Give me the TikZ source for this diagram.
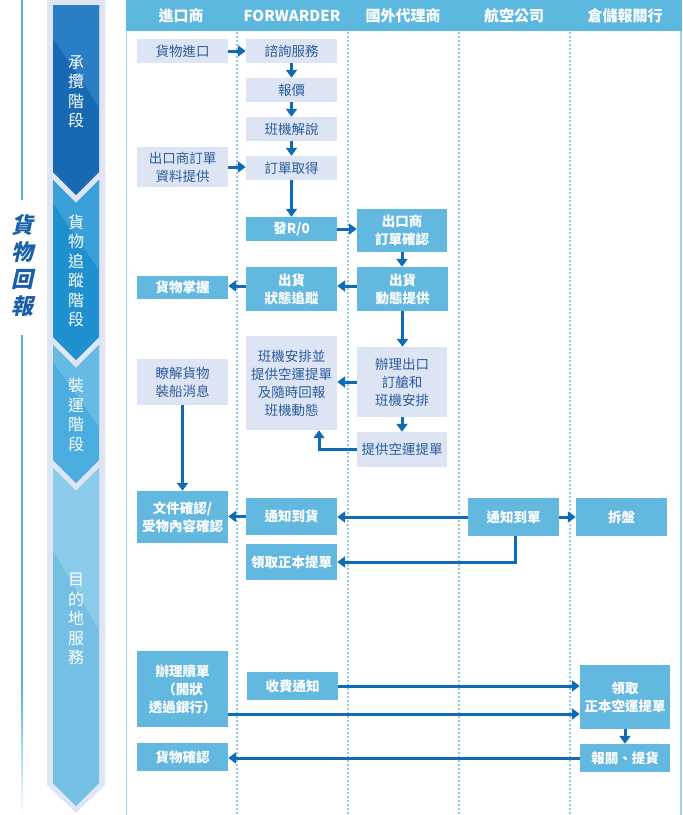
\documentclass[tikz,border=0pt]{standalone}
\usepackage{fontspec}
\setmainfont{Noto Sans CJK TC}
\newfontfamily\titlefont[FakeSlant=0.22]{Noto Sans CJK TC}
\usetikzlibrary{arrows.meta}
\definecolor{lightfill}{HTML}{DDE5F4}
\definecolor{lighttext}{HTML}{2C5C9C}
\definecolor{medfill}{HTML}{63B8E0}
\definecolor{arrowc}{HTML}{106BB6}
\definecolor{headc}{HTML}{5DB8E0}
\definecolor{sepc}{HTML}{8CCBEE}
\definecolor{framec}{HTML}{9ED3F0}
\definecolor{lavender}{HTML}{DFE5F5}
\definecolor{titleblue}{HTML}{1A5FA8}
\definecolor{linec}{HTML}{5AB4DC}
\definecolor{pa}{HTML}{1769B3}
\definecolor{pal}{HTML}{2A7FC4}
\definecolor{pb}{HTML}{1E90D0}
\definecolor{pbl}{HTML}{3AA0D9}
\definecolor{pc}{HTML}{4AACDF}
\definecolor{pcl}{HTML}{66BBE5}
\definecolor{pd}{HTML}{74C0E5}
\definecolor{pdl}{HTML}{8ACBEA}
\begin{document}
\begin{tikzpicture}[x=1pt,y=-1pt,
  lbox/.style={fill=lightfill, text=lighttext, font=\fontsize{13.5}{18}\selectfont, align=center, inner sep=0pt},
  mbox/.style={fill=medfill, text=white, font=\fontsize{13.5}{18}\selectfont\bfseries, align=center, inner sep=0pt},
  flow/.style={draw=arrowc, line width=3pt, -{Triangle[length=8pt,width=11pt]}},
  sepline/.style={draw=sepc, line width=1.3pt, dash pattern=on 2pt off 2pt},
  headtxt/.style={text=white, font=\fontsize{15}{18}\selectfont\bfseries},
  phasetxt/.style={text=white, font=\fontsize{16}{19.5}\selectfont, align=center, inner sep=0pt}
]
\useasboundingbox (0,0) rectangle (683,815);

% left title line
\fill[linec] (21,0) rectangle (23,200);
\fill[linec] (21,335) rectangle (23,690);
\shade[top color=linec, bottom color=white] (21,690) rectangle (23,815);
\node[text=titleblue, font=\titlefont\bfseries\fontsize{22}{27}\selectfont, align=center, inner sep=0pt] (title) at (22,266) {貨\\物\\回\\報};

% phase column
\fill[lavender] (47,0) -- (105,0) -- (105,785) -- (76,813) -- (47,785) -- cycle;
% arrow 1
\begin{scope}
\clip (53,5) -- (99,5) -- (99,172) -- (76,195) -- (53,172) -- cycle;
\fill[pa] (40,0) rectangle (110,200);
\fill[pal] (53,0) -- (53,38) -- (99,107) -- (99,0) -- cycle;
\end{scope}
% arrow 2
\begin{scope}
\clip (53,180) -- (76,203) -- (99,180) -- (99,337) -- (76,360) -- (53,337) -- cycle;
\fill[pb] (40,175) rectangle (110,365);
\fill[pbl] (53,175) -- (53,203) -- (99,270) -- (99,175) -- cycle;
\end{scope}
% arrow 3
\begin{scope}
\clip (53,345) -- (76,368) -- (99,345) -- (99,460) -- (76,483) -- (53,460) -- cycle;
\fill[pc] (40,340) rectangle (110,490);
\fill[pcl] (53,340) -- (53,362) -- (99,427) -- (99,340) -- cycle;
\end{scope}
% arrow 4
\begin{scope}
\clip (53,468) -- (76,491) -- (99,468) -- (99,783) -- (76,806) -- (53,783) -- cycle;
\fill[pd] (40,465) rectangle (110,810);
\fill[pdl] (53,465) -- (53,550) -- (99,630) -- (99,465) -- cycle;
\end{scope}
\node[phasetxt] (ph1) at (76,92) {承\\攬\\階\\段};
\node[phasetxt] (ph2) at (76,271) {貨\\物\\追\\蹤\\階\\段};
\node[phasetxt] (ph3) at (76,415) {裝\\運\\階\\段};
\node[phasetxt] (ph4) at (76,619) {目\\的\\地\\服\\務};

% frame and header
\draw[framec, line width=1.5pt] (126.5,0) -- (126.5,815);
\draw[framec, line width=1.5pt] (681,0) -- (681,815);
\fill[headc] (125.5,0) rectangle (682,31);
\node[headtxt] (h1) at (181,16) {進口商};
\node[headtxt] (h2) at (292,16) {FORWARDER};
\node[headtxt] (h3) at (403,16) {國外代理商};
\node[headtxt] (h4) at (514,16) {航空公司};
\node[headtxt] (h5) at (625,16) {倉儲報關行};

\foreach \xx in {237,348,459,570} \draw[sepline] (\xx,32) -- (\xx,815);

% boxes
\node[lbox, minimum width=91pt, minimum height=24pt] (imp) at (182.5,51) {貨物進口};
\node[lbox, minimum width=91pt, minimum height=24pt] (cons) at (291.5,51) {諮詢服務};
\node[lbox, minimum width=91pt, minimum height=24pt] (quote) at (291.5,90) {報價};
\node[lbox, minimum width=91pt, minimum height=24pt] (flt) at (291.5,129) {班機解說};
\node[lbox, minimum width=91pt, minimum height=40pt] (order) at (182.5,167) {出口商訂單\\資料提供};
\node[lbox, minimum width=91pt, minimum height=24pt] (get) at (291.5,168) {訂單取得};
\node[mbox, minimum width=91pt, minimum height=24pt] (ro) at (291.5,229) {發R/0};
\node[mbox, minimum width=90pt, minimum height=43pt] (conf) at (402,230.5) {出口商\\訂單確認};
\node[mbox, minimum width=91pt, minimum height=23pt] (hold) at (182.5,287.5) {貨物掌握};
\node[mbox, minimum width=91pt, minimum height=44pt] (track) at (291.5,289) {出貨\\狀態追蹤};
\node[mbox, minimum width=91pt, minimum height=44pt] (dyn) at (402.5,289) {出貨\\動態提供};
\node[lbox, minimum width=90pt, minimum height=70pt] (book) at (402,382) {辦理出口\\訂艙和\\班機安排};
\node[lbox, minimum width=90pt, minimum height=35pt] (awb) at (402,449.5) {提供空運提單};
\node[lbox, minimum width=91pt, minimum height=94pt] (arr) at (291.5,383) {班機安排並\\提供空運提單\\及隨時回報\\班機動態};
\node[lbox, minimum width=91pt, minimum height=46pt] (know) at (182.5,382) {瞭解貨物\\裝船消息};
\node[mbox, minimum width=91pt, minimum height=52pt] (doc) at (182.5,517) {文件確認/\\受物內容確認};
\node[mbox, minimum width=91pt, minimum height=37pt] (ntg) at (291.5,516.5) {通知到貨};
\node[mbox, minimum width=91pt, minimum height=36pt] (orig) at (291.5,562) {領取正本提單};
\node[mbox, minimum width=91pt, minimum height=38pt] (ntd) at (513.5,517) {通知到單};
\node[mbox, minimum width=91pt, minimum height=38pt] (split) at (621.5,517) {拆盤};
\node[mbox, minimum width=91pt, minimum height=76pt] (redeem) at (182.5,689) {辦理贖單\\（開狀\\透過銀行）};
\node[mbox, minimum width=91pt, minimum height=28pt] (fee) at (292.5,686) {收費通知};
\node[mbox, minimum width=90pt, minimum height=64pt] (take) at (625,697) {領取\\正本空運提單};
\node[mbox, minimum width=91pt, minimum height=28pt] (confirm) at (182.5,757) {貨物確認};
\node[mbox, minimum width=90pt, minimum height=28pt] (customs) at (625,758) {報關、提貨};

% connectors
\draw[flow] (imp.east) -- (cons.west);
\draw[flow] (cons.south) -- (quote.north);
\draw[flow] (quote.south) -- (flt.north);
\draw[flow] (flt.south) -- (get.north);
\draw[flow] (order.east) -- (order.east -| get.west);
\draw[flow] (get.south) -- (ro.north);
\draw[flow] (ro.east) -- (ro.east -| conf.west);
\draw[flow] (conf.south) -- (conf.south |- dyn.north);
\draw[flow] ([yshift=3pt]dyn.west) -- ([yshift=3pt]dyn.west -| track.east);
\draw[flow] ([yshift=3pt]track.west) -- ([yshift=3pt]track.west -| hold.east);
\draw[flow] (dyn.south) -- (dyn.south |- book.north);
\draw[flow] (book.west) -- (book.west -| arr.east);
\draw[flow] (book.south) -- (awb.north);
\draw[flow] (awb.west) -| ([xshift=27.5pt]arr.south);
\draw[flow] (know.south) -- (doc.north);
\draw[flow] (ntd.west) -- (ntd.west -| ntg.east);
\draw[flow] (ntg.west) -- (ntg.west -| doc.east);
\draw[flow] (ntd.east) -- (split.west);
\draw[flow] ([xshift=1.5pt]ntd.south) |- (orig.east);
\draw[flow] (fee.east) -- (fee.east -| take.west);
\draw[flow] ([yshift=-25pt]redeem.east) -- ([yshift=-25pt]redeem.east -| take.west);
\draw[flow] (take.south) -- (customs.north);
\draw[flow] (customs.west) -- (customs.west -| confirm.east);
\end{tikzpicture}
\end{document}
